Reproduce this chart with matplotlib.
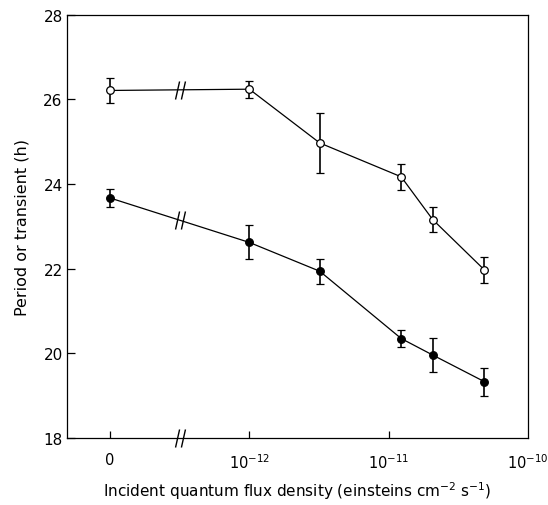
import numpy as np
import matplotlib
matplotlib.use("Agg")
import matplotlib.pyplot as plt
from matplotlib.path import Path

plt.rcParams['font.family'] = ['DejaVu Sans']

# flux density (einsteins cm-2 s-1), 0 = darkness
flux_open = [0, 1.0e-12, 3.2e-12, 1.23e-11, 2.07e-11, 4.87e-11]
period_open = [26.21, 26.24, 24.97, 24.17, 23.16, 21.97]
err_open = [0.30, 0.20, 0.70, 0.30, 0.29, 0.30]

flux_filled = [0, 1.0e-12, 3.2e-12, 1.23e-11, 2.07e-11, 4.87e-11]
period_filled = [23.67, 22.62, 21.94, 20.35, 19.96, 19.33]
err_filled = [0.22, 0.40, 0.30, 0.21, 0.40, 0.33]

xtick_labels = ['0', r'$10^{-12}$', r'$10^{-11}$', r'$10^{-10}$']
yticks = [18, 20, 22, 24, 26, 28]

ZERO_POS = -13.0   # where "0" sits on the log axis
BREAK_POS = -12.5


def to_pos(f):
    f = np.asarray(f, dtype=float)
    out = np.full(f.shape, ZERO_POS)
    out[f > 0] = np.log10(f[f > 0])
    return out


# marker shaped like "//"
slash = Path([(-0.55, -1), (-0.1, 1), (0.1, -1), (0.55, 1)],
             [Path.MOVETO, Path.LINETO, Path.MOVETO, Path.LINETO])

fig = plt.figure(figsize=(5.48, 5.06), dpi=100)
ax = fig.add_axes([0.122, 0.1324, 0.8415, 0.8366])

xo = to_pos(flux_open)
xf = to_pos(flux_filled)

ax.errorbar(xo, period_open, yerr=err_open, fmt='-o', color='k', lw=0.9,
            mfc='white', mec='k', ms=5.5, mew=0.9, elinewidth=1.2,
            capsize=2.8, capthick=1.2)
ax.errorbar(xf, period_filled, yerr=err_filled, fmt='-o', color='k', lw=0.9,
            mfc='k', mec='k', ms=5.5, mew=0.9, elinewidth=1.2,
            capsize=2.8, capthick=1.2)

# break marks on both curves and on the x axis
for xs, ys in ((xo, period_open), (xf, period_filled)):
    yb = np.interp(BREAK_POS, xs[:2], ys[:2])
    ax.plot([BREAK_POS], [yb], ls='none', marker=slash, ms=13,
            mec='k', mew=1.0, clip_on=False)
ax.plot([BREAK_POS], [18], ls='none', marker=slash, ms=13,
        mec='k', mew=1.0, clip_on=False, zorder=5)

ax.set_xlim(-13.31, -10.0)
ax.set_ylim(18, 28)
ax.set_xticks([-13, -12, -11, -10])
ax.set_xticklabels(xtick_labels)
ax.set_yticks(yticks)

ax.tick_params(axis='x', direction='in', length=5, width=0.9,
               labelsize=10.5, pad=10)
ax.tick_params(axis='y', direction='in', length=6, width=0.9,
               labelsize=11, pad=3)
ax.xaxis.get_major_ticks()[-1].tick1line.set_visible(False)
for s in ax.spines.values():
    s.set_linewidth(0.9)

ax.set_xlabel(r'Incident quantum flux density (einsteins cm$^{-2}$ s$^{-1}$)',
              fontsize=11, labelpad=6)
ax.set_ylabel('Period or transient (h)', fontsize=11.5, labelpad=10)

fig.savefig('out.png', dpi=100, facecolor='white')
